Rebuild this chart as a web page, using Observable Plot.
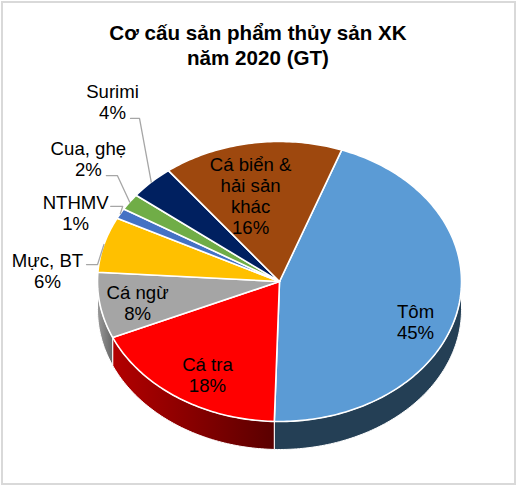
<!DOCTYPE html>
<html>
<head>
<meta charset="utf-8">
<script src="https://cdn.jsdelivr.net/npm/d3@7"></script>
<script src="https://cdn.jsdelivr.net/npm/@observablehq/plot@0.6"></script>
<style>
  html, body { margin: 0; padding: 0; background: #fff; }
  #chart { position: relative; width: 516px; height: 485px; overflow: hidden; font-family: "Liberation Sans", Arial, sans-serif; }
  #frame { position: absolute; left: 1px; top: 1px; width: 511px; height: 480px; border: 2px solid #d9d9d9; pointer-events: none; }
  #title { height: 70px; box-sizing: border-box; padding-top: 20px; text-align: center; font-weight: bold; font-size: 20.6px; line-height: 25px; color: #000; white-space: nowrap; }
  svg { display: block; }
</style>
</head>
<body>
<div id="chart"><div id="frame"></div><div id="title">Cơ cấu sản phẩm thủy sản XK<br>năm 2020 (GT)</div></div>
<script>
// Data, clockwise from the first slice
const categories = ["Tôm", "Cá tra", "Cá ngừ", "Mực, BT", "NTHMV", "Cua, ghẹ", "Surimi", "Cá biển & hải sản khác"];
const shares = [44.9, 18, 7.6, 6.4, 1.2, 1.9, 4.0, 16.0];
const labelLines = ["Tôm", "Cá tra", "Cá ngừ", "Mực, BT", "NTHMV", "Cua, ghẹ", "Surimi", "Cá biển &\nhải sản\nkhác"];
const colors = ["#5b9bd5", "#ff0000", "#a5a5a5", "#ffc000", "#4472c4", "#70ad47", "#002060", "#9e480e"];

// Layout
const startAngle = 20, depth = 0.2, rx = 182, ry = 140;
const labelAngle = [110.9, 210.8, 259.1, 273.5, 293.8, 309.9, 324.5, 345.5];
const labelRadius = [0.8, 0.773, 0.794, 1.277, 1.224, 1.369, 1.58, 0.634];
// leader start relative to the label centre, in pixels; null = no leader
const leaderOffset = [null, null, null, [39, -6], [35, -6], [18, 17], [18, 17], null];
const leaderRun = [0, 0, 0, 11, 12, 11, 9, 0];

const rad = d => d * Math.PI / 180;
const pt = (a, r = 1) => [r * Math.sin(rad(a)), r * Math.cos(rad(a))];
const total = d3.sum(shares);
let acc = startAngle;
const slices = categories.map((name, i) => {
  const a0 = acc; acc += shares[i] / total * 360;
  return {name, i, a0, a1: acc, mid: (a0 + acc) / 2};
});

function arc(a0, a1) {
  const n = Math.max(2, Math.ceil(a1 - a0));
  return d3.range(n + 1).map(k => a0 + (a1 - a0) * k / n);
}
const tops = slices.flatMap(s => {
  const ring = arc(s.a0, s.a1).map(a => pt(a));
  return [[0, 0], ...ring, [0, 0]].map(([x, y]) => ({name: s.name, x, y}));
});
function side(s) {
  const a0 = Math.max(s.a0, 90), a1 = Math.min(s.a1, 270);
  if (a1 <= a0) return [];
  const ring = arc(a0, a1).map(a => pt(a));
  const pts = [...ring, ...ring.slice().reverse().map(([x, y]) => [x, y - depth]), ring[0]];
  return pts.map(([x, y]) => ({x, y}));
}
const labels = slices.map(s => {
  const [x, y] = pt(labelAngle[s.i], labelRadius[s.i]);
  return {x, y, text: `${labelLines[s.i]}\n${Math.round(shares[s.i])}%`};
});
const leaders = slices.filter(s => leaderOffset[s.i]).flatMap(s => {
  const l = labels[s.i], [ox, oy] = leaderOffset[s.i];
  const sx = l.x + ox / rx, sy = l.y - oy / ry;
  const [ex, ey] = pt(s.mid);
  return [[sx, sy], [sx + leaderRun[s.i] / rx, sy], [ex, ey]].map(([x, y]) => ({name: s.name, x, y}));
});

function defs() {
  const d = d3.create("svg:defs");
  const grad = (id, a, b) => {
    const g = d.append("linearGradient").attr("id", id);
    g.append("stop").attr("offset", "0%").attr("stop-color", a);
    g.append("stop").attr("offset", "100%").attr("stop-color", b);
  };
  grad("sideRed", "#b30000", "#5a0000");
  grad("sideGray", "#9a9a9a", "#666666");
  return d.node();
}
const sideFill = ["#243f55", "url(#sideRed)", "url(#sideGray)"];

const plot = Plot.plot({
  width: 516, height: 412,
  margin: 0,
  style: {fontFamily: '"Liberation Sans", Arial, sans-serif', background: "transparent", color: "#000"},
  x: {domain: [-1, 1], range: [97, 461], axis: null},
  y: {domain: [-1, 1], range: [351, 71], axis: null},
  color: {domain: categories, range: colors},
  marks: [
    defs,
    ...slices.slice(0, 3).map((s, i) => Plot.line(side(s), {x: "x", y: "y", fill: sideFill[i], stroke: "#fff", strokeWidth: 1})),
    Plot.line(tops, {x: "x", y: "y", z: "name", fill: "name", stroke: "#fff", strokeWidth: 1.6, strokeLinejoin: "round"}),
    Plot.line(leaders, {x: "x", y: "y", z: "name", stroke: "#a6a6a6", strokeWidth: 1.3}),
    Plot.text(labels, {x: "x", y: "y", text: "text", fontSize: 18.6, lineHeight: 1.14, fill: "#000", textAnchor: "middle"})
  ]
});
document.getElementById("chart").appendChild(plot);
</script>
</body>
</html>
